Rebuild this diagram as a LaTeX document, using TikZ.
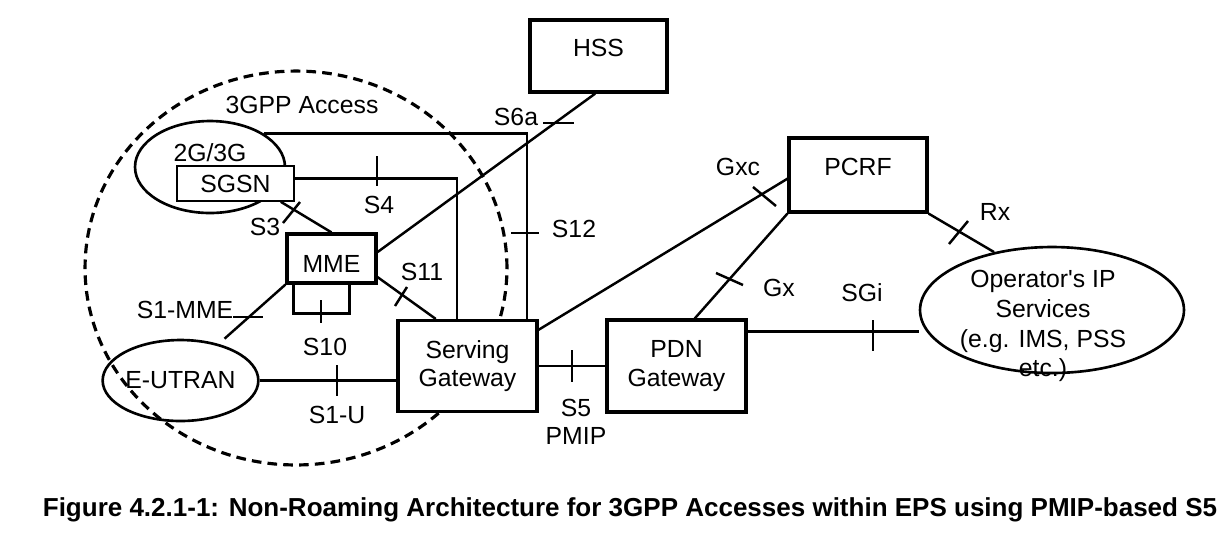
\documentclass[tikz,border=0pt]{standalone}
\usepackage{fontspec}
\setmainfont{Liberation Sans}
\usetikzlibrary{shapes.geometric, calc}

\tikzset{
  netbox/.style={draw, fill=white, line width=1.8pt, inner sep=0pt, align=center},
  netcloud/.style={draw, ellipse, line width=1.5pt, inner sep=0pt},
  ifline/.style={line width=1.4pt},
  ifmark/.style={line width=1.4pt},
}

\begin{document}
\begin{tikzpicture}[x=0.02cm, y=-0.02cm, font=\fontsize{14.1}{16}\selectfont]

    \useasboundingbox (0,0) rectangle (1226,539);

    % 3GPP access area
    \draw[line width=1.8pt, dash pattern=on 5.5pt off 3.5pt]
        (296,268) ellipse [x radius=4.22cm, y radius=3.94cm];
    \node (lAccess) at (302,105) {3GPP Access};

    % network elements
    \node[netbox, minimum width=2.74cm, minimum height=1.44cm,
          text height=0.355cm, text depth=0.32cm] (hss) at (598.5,56) {HSS};
    \node[netbox, minimum width=2.76cm, minimum height=1.48cm,
          text height=0.355cm, text depth=0.32cm] (pcrf) at (858,175) {PCRF};
    \node[netbox, minimum width=1.78cm, minimum height=0.98cm,
          text height=0.555cm, text depth=0cm] (mme) at (331.5,258.5) {MME};
    \node[netbox, minimum width=2.78cm, minimum height=1.82cm] (sgw) at (467.5,366) {Serving\\Gateway};
    \node[netbox, minimum width=2.78cm, minimum height=1.84cm] (pgw) at (676.5,366) {PDN\\Gateway};

    % radio accesses
    \node[netcloud, minimum width=3cm, minimum height=1.84cm,
          text height=0.355cm, text depth=0.56cm] (geran) at (210,167) {2G/3G};
    \node[netbox, line width=0.9pt, minimum width=2.34cm,
          minimum height=0.7cm] (sgsn) at (235.5,183.5) {SGSN};
    \node[netcloud, minimum width=2.98cm, minimum height=1.62cm] (eutran) at (180.5,380.5) {E-UTRAN};

    % operator services
    \node[netcloud, minimum width=5.28cm, minimum height=2.52cm] (ops) at (1052,310) {};
    \node[align=center, font=\fontsize{14.1}{17}\selectfont] (opstxt) at (1043,326)
        {Operator\textquotesingle s IP\\Services\\(e.g. IMS, PSS\\etc.)};

    % interfaces
    \draw[ifline] (mme.8) -- (hss.-95);
    \draw[ifline] (sgsn.-22) -- (mme.north);
    \draw[ifline] (sgsn.5) -| ($(sgw.north)+(-10.5,0)$);
    \draw[ifline] (geran.32) -| ($(sgw.north)+(59.5,0)$);
    \draw[ifline] (mme.-22) -- (sgw.124);
    \draw[ifline] ($(mme.south west)+(8,0)$) -- ++(0,29) -| ($(mme.south east)+(-28,0)$);
    \draw[ifline] (mme.south west) -- ($(eutran.north)+(44,0)$);
    \draw[ifline] (eutran.east) -- (sgw.west |- eutran.east);
    \draw[ifline] (sgw.east) -- (pgw.west);
    \draw[ifline] (sgw.27) -- (pcrf.183);
    \draw[ifline] (pcrf.south west) -- (pgw.69);
    \draw[ifline] (pgw.26) -- (pgw.26 -| ops.west);
    \draw[ifline] (pcrf.south east) -- (ops.135);

    % interface marks
    \draw[ifmark] (543,123) -- (574,123);
    \draw[ifmark] (283,223) -- (300,202);
    \draw[ifmark] (377,156) -- (377,186);
    \draw[ifmark] (511,233) -- (539,233);
    \draw[ifmark] (395,306) -- (407,287);
    \draw[ifmark] (233,317) -- (263,317);
    \draw[ifmark] (321,300) -- (321,323);
    \draw[ifmark] (337,365) -- (337,396);
    \draw[ifmark] (572,350) -- (572,382);
    \draw[ifmark] (753,187) -- (776,206);
    \draw[ifmark] (716,273) -- (743,285);
    \draw[ifmark] (873,320) -- (873,351);
    \draw[ifmark] (949,244) -- (968,221);

    % interface names
    \node (lS6a) at (516,117) {S6a};
    \node (lS3) at (265,227) {S3};
    \node (lS4) at (379,205) {S4};
    \node (lS12) at (574,229) {S12};
    \node (lS11) at (422,272) {S11};
    \node (lS1mme) at (185,310) {S1-MME};
    \node (lS10) at (325,347) {S10};
    \node (lS1u) at (337,415) {S1-U};
    \node[align=center] (lS5) at (576,422) {S5\\PMIP};
    \node (lGxc) at (738,167) {Gxc};
    \node (lGx) at (779,288) {Gx};
    \node (lSGi) at (862,293) {SGi};
    \node (lRx) at (995,212) {Rx};

    % caption
    \node[font=\fontsize{14.8}{17}\selectfont\bfseries] (caption) at (630,510)
        {Figure 4.2.1-1: Non-Roaming Architecture for 3GPP Accesses within EPS using PMIP-based S5};

\end{tikzpicture}
\end{document}
